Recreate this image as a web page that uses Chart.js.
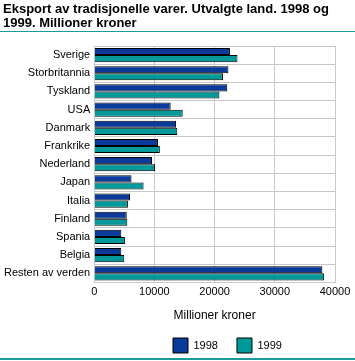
<!DOCTYPE html>
<html><head><meta charset="utf-8">
<script src="https://cdn.jsdelivr.net/npm/chart.js@4/dist/chart.umd.min.js"></script>
<style>
body{margin:0;background:#fff;}
#wrap{position:relative;width:355px;height:361px;overflow:hidden;}
#title{position:absolute;left:3px;top:2px;font:bold 13px "Liberation Sans",Arial,sans-serif;line-height:14px;color:#000;}
#l1{position:absolute;left:0;top:31px;width:355px;height:1px;background:#1b9a9a;}
#l2{position:absolute;left:0;top:358px;width:355px;height:2px;background:#1b9a9a;}
#c{position:absolute;left:0;top:0;}
</style></head><body>
<div id="wrap">
<canvas id="c" width="355" height="361"></canvas>
<div id="title">Eksport av tradisjonelle varer. Utvalgte land. 1998 og<br>1999. Millioner kroner</div>
<div id="l1"></div><div id="l2"></div>
</div>
<script>
const categories = ["Sverige","Storbritannia","Tyskland","USA","Danmark","Frankrike","Nederland","Japan","Italia","Finland","Spania","Belgia","Resten av verden"];
const values1998 = [22550,22300,22100,12700,13600,10600,9600,6200,5950,5400,4500,4500,37900];
const values1999 = [23800,21400,20800,14700,13800,10900,10100,8200,5600,5500,5100,5000,38200];
const seriesLabels = ["1998","1999"];
const xTicks = [0,10000,20000,30000,40000];
const axisTitle = "Millioner kroner";

const font = {family:'"Liberation Sans", Arial, sans-serif', size:11};
const legendMove = {
  id:'legendMove',
  afterLayout(chart){
    const lg = chart.legend;
    const h = lg.height;
    lg.left = 173 - 19; lg.right = 355 + 100; lg.width = lg.right - lg.left;
    lg.top = 338 - 19; lg.bottom = lg.top + h; lg.height = h;
  }
};
new Chart(document.getElementById('c'), {
  type:'bar',
  data:{labels:categories, datasets:[
    {label:seriesLabels[0], data:values1998, backgroundColor:'#0a3a9a', borderColor:'#000', borderWidth:1, categoryPercentage:0.78, barPercentage:1},
    {label:seriesLabels[1], data:values1999, backgroundColor:'#009999', borderColor:'#000', borderWidth:1, categoryPercentage:0.78, barPercentage:1}
  ]},
  plugins:[legendMove],
  options:{
    responsive:false, animation:false, indexAxis:'y',
    layout:{padding:{top:46,right:20,left:0,bottom:-8}},
    plugins:{
      legend:{position:'bottom', align:'start', labels:{font:font, color:'#000', boxWidth:15, boxHeight:15, padding:19}},
      tooltip:{enabled:false}
    },
    scales:{
      x:{min:0,max:40000,
        afterBuildTicks:(s)=>{s.ticks=xTicks.map(v=>({value:v}));},
        ticks:{font:font,color:'#000',padding:3,callback:(v)=>String(v)},
        grid:{color:'#c8c8c8',drawTicks:false},
        border:{color:'#c8c8c8'},
        title:{display:true,text:axisTitle,font:{family:font.family,size:12},color:'#000',padding:{top:7,bottom:2}}
      },
      y:{ticks:{font:font,color:'#000',padding:4},
        grid:{color:'#c8c8c8',offset:true,drawTicks:false},
        border:{color:'#c8c8c8'}
      }
    }
  }
});
</script>
</body></html>
